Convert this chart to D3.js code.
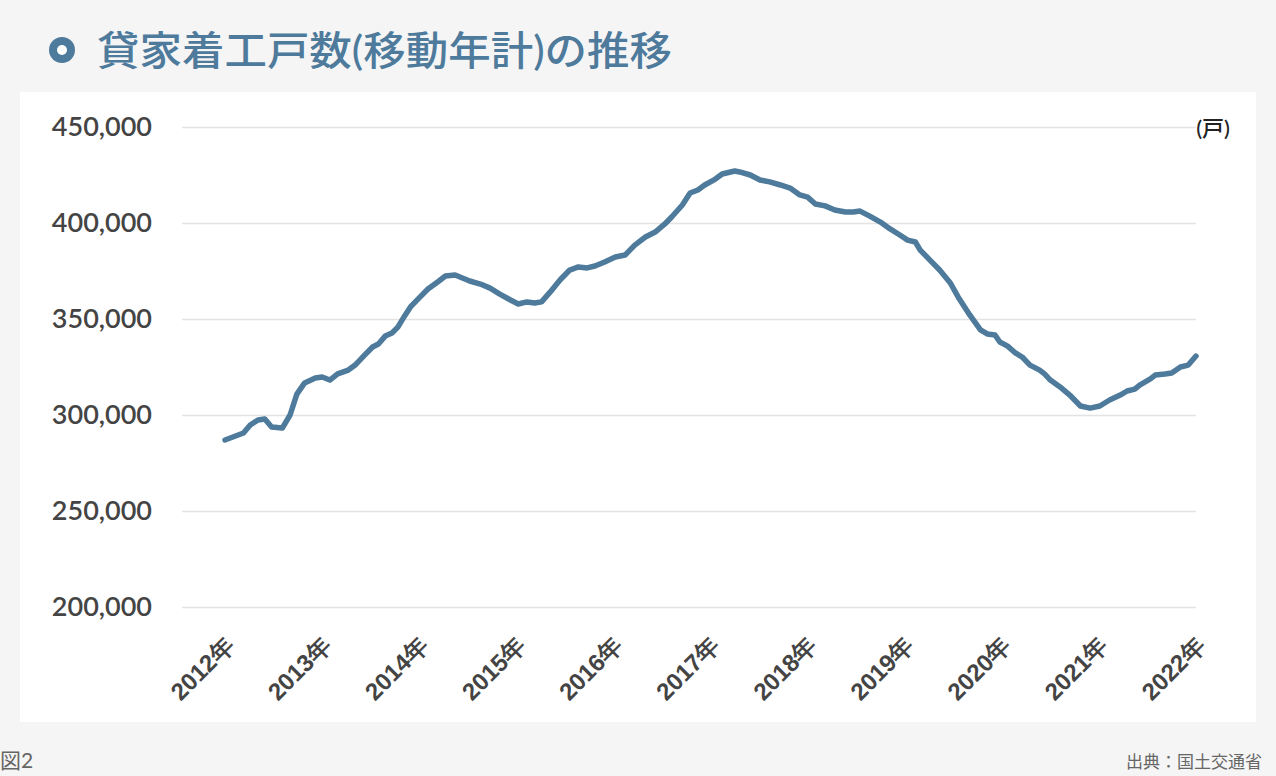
<!DOCTYPE html>
<html><head><meta charset="utf-8">
<script src="https://cdn.jsdelivr.net/npm/d3@7"></script>
<style>body{margin:0;background:#f5f5f5;}svg{display:block;font-family:Lato,"Noto Sans CJK JP",sans-serif;}</style>
</head><body><svg id="c" width="1276" height="776"></svg>
<script>
const years = d3.range(2012, 2023);
const yTicks = [200000, 250000, 300000, 350000, 400000, 450000];
const t = [0,.19,.26,.34,.41,.48,.59,.67,.74,.82,.93,1.00,1.08,1.16,1.27,1.34,1.44,1.52,1.58,1.65,1.72,1.78,1.85,1.91,2.01,2.09,2.19,2.27,2.37,2.42,2.52,2.63,2.73,2.83,2.94,3.02,3.11,3.19,3.26,3.35,3.45,3.55,3.64,3.73,3.81,3.91,4.02,4.12,4.22,4.33,4.43,4.53,4.60,4.71,4.79,4.87,4.94,5.05,5.12,5.25,5.30,5.41,5.51,5.61,5.72,5.82,5.92,6.00,6.08,6.18,6.28,6.39,6.47,6.54,6.64,6.75,6.85,6.95,7.03,7.11,7.16,7.26,7.36,7.47,7.55,7.67,7.78,7.85,7.93,7.98,8.06,8.14,8.21,8.29,8.39,8.44,8.50,8.60,8.70,8.81,8.91,9.01,9.11,9.22,9.29,9.37,9.42,9.53,9.58,9.68,9.75,9.84,9.92,10.0];
const values = [287000,290600,294800,297400,297900,293750,293200,300000,310900,316700,319300,319800,318200,321400,323400,326000,331300,335400,337000,341100,342700,345800,351600,356300,361500,365600,369300,372400,372900,371900,369800,368200,366100,363000,359900,357800,358900,358300,358900,364100,370300,375500,377100,376600,377600,379700,382300,383300,388500,392700,395300,399500,403100,409400,415600,417200,419800,422900,425500,427100,426600,425000,422400,421400,419800,418200,414600,413500,409900,408900,406800,405700,405700,406200,403600,400500,396900,393750,391100,390100,385900,380700,375500,368750,361500,352100,344300,342200,341700,338000,335900,332300,330200,326000,323400,321400,318200,314600,310400,304700,303600,304700,307800,310400,312500,313500,315600,318800,320800,321400,321900,325000,326000,330700];

const svg = d3.select("#c");
svg.append("rect").attr("x",20).attr("y",92).attr("width",1236).attr("height",630).attr("fill","#fff");
svg.append("circle").attr("cx",62).attr("cy",50).attr("r",13).attr("fill","#4e7a9c");
svg.append("circle").attr("cx",62).attr("cy",50).attr("r",5).attr("fill","#fff");
svg.append("text").attr("x",97).attr("y",65).attr("font-size",40).attr("fill","#4e7a9c").attr("font-weight",500)
  .attr("textLength",575).attr("lengthAdjust","spacingAndGlyphs")
  .text("貸家着工戸数(移動年計)の推移");
svg.append("text").attr("x",0).attr("y",768).attr("font-size",21).attr("fill","#666").text("図2");
svg.append("text").attr("x",1262).attr("y",768).attr("font-size",17).attr("fill","#666").attr("text-anchor","end").text("出典：国土交通省");

const x = d3.scaleLinear().domain([2012,2022]).range([225,1196]);
const y = d3.scaleLinear().domain([200000,450000]).range([607,127]);

const ya = svg.append("g").attr("transform","translate(182,0)")
  .call(d3.axisLeft(y).tickValues(yTicks).tickSize(-1014).tickFormat(d3.format(",")));
ya.select(".domain").remove();
ya.selectAll("line").attr("stroke","#e3e3e3").attr("stroke-width",1.5);
ya.selectAll("text").attr("x",-30).attr("font-size",27).attr("fill","#444").attr("font-family","Lato,sans-serif").attr("font-weight",600);

const xa = svg.append("g").attr("transform","translate(0,607)")
  .call(d3.axisBottom(x).tickValues(years).tickSize(0).tickFormat(d=>d+"年"));
xa.select(".domain").remove();
xa.selectAll("text").attr("font-size",24).attr("fill","#444").attr("font-weight",600)
  .attr("text-anchor","end").attr("dy",0).attr("y",0)
  .attr("transform","translate(10,40) rotate(-45)");

svg.append("text").attr("x",1230).attr("y",136).attr("text-anchor","end").attr("font-size",22).attr("fill","#222").attr("font-weight",500).text("(戸)");

const data = t.map((d,i)=>[2012+d, values[i]]);
svg.append("path").datum(data).attr("fill","none").attr("stroke","#4e7a9c").attr("stroke-width",5.5)
  .attr("stroke-linejoin","round").attr("stroke-linecap","round")
  .attr("d", d3.line().x(d=>x(d[0])).y(d=>y(d[1])));
</script></body></html>
